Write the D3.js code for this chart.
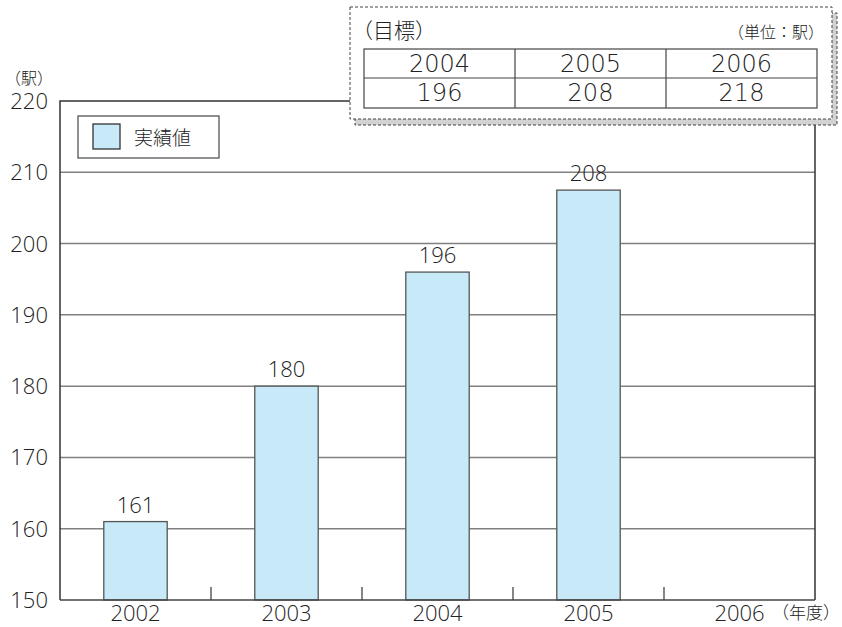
<!DOCTYPE html>
<html>
<head>
<meta charset="utf-8">
<script src="https://cdn.jsdelivr.net/npm/d3@7"></script>
<style>
  body { margin: 0; background: #fff; }
  text { font-family: "Open Sans", "Noto Sans CJK JP", sans-serif; font-weight: 300; fill: #222; }
  .jp { font-family: "Noto Sans CJK JP", sans-serif; font-weight: 300; }
</style>
</head>
<body>
<div id="chart"></div>
<script>
let years = ["2002", "2003", "2004", "2005", "2006"];
let actual = [161, 180, 196, 207.5, null];
let actualLabels = ["161", "180", "196", "208", ""];
let yTicks = [150, 160, 170, 180, 190, 200, 210, 220];
let targetYears = ["2004", "2005", "2006"];
let targetValues = ["196", "208", "218"];

let width = 842, height = 627;
let plotLeft = 60, plotRight = 815, plotTop = 101, plotBottom = 600;

let svg = d3.select("#chart")
    .append("svg")
    .attr("width", width)
    .attr("height", height);

let xScale = d3.scaleBand()
    .domain(years)
    .range([plotLeft, plotRight])
    .paddingInner(0.58)
    .paddingOuter(0.29);

let yScale = d3.scaleLinear()
    .domain([150, 220])
    .range([plotBottom, plotTop]);

// gridlines
svg.append("g")
    .selectAll("line")
    .data(yTicks.slice(1, -1))
    .enter()
    .append("line")
    .attr("x1", plotLeft)
    .attr("x2", plotRight)
    .attr("y1", d => yScale(d))
    .attr("y2", d => yScale(d))
    .style("stroke", "#808080")
    .style("stroke-width", 1.5);

// frame
svg.append("path")
    .attr("d", "M" + plotLeft + "," + plotBottom + "V" + plotTop + "H" + plotRight + "V" + plotBottom)
    .style("fill", "none")
    .style("stroke", "#333")
    .style("stroke-width", 1.5);

// bars
let data = years.map((y, i) => ({year: y, value: actual[i], label: actualLabels[i]}))
    .filter(d => d.value !== null);

svg.selectAll(".bar")
    .data(data)
    .enter()
    .append("rect")
    .attr("class", "bar")
    .attr("x", d => xScale(d.year))
    .attr("y", d => yScale(d.value))
    .attr("width", xScale.bandwidth())
    .attr("height", d => plotBottom - yScale(d.value))
    .style("fill", "#c7e9f8")
    .style("stroke", "#555")
    .style("stroke-width", 1.3);

svg.selectAll(".vlabel")
    .data(data)
    .enter()
    .append("text")
    .attr("class", "vlabel")
    .attr("x", d => xScale(d.year) + xScale.bandwidth() / 2)
    .attr("y", d => yScale(d.value) - 9)
    .attr("text-anchor", "middle")
    .style("font-size", "22px")
    .text(d => d.label);

// bottom axis line with ticks between categories
svg.append("line")
    .attr("x1", plotLeft).attr("x2", plotRight)
    .attr("y1", plotBottom).attr("y2", plotBottom)
    .style("stroke", "#444")
    .style("stroke-width", 1.5);

svg.selectAll(".sep")
    .data(years.slice(1))
    .enter()
    .append("line")
    .attr("class", "sep")
    .attr("x1", d => xScale(d) - xScale.step() / 2 + xScale.bandwidth() / 2)
    .attr("x2", d => xScale(d) - xScale.step() / 2 + xScale.bandwidth() / 2)
    .attr("y1", plotBottom)
    .attr("y2", plotBottom - 13)
    .style("stroke", "#444")
    .style("stroke-width", 1.3);

svg.selectAll(".xlabel")
    .data(years)
    .enter()
    .append("text")
    .attr("class", "xlabel")
    .attr("x", d => xScale(d) + xScale.bandwidth() / 2)
    .attr("y", 621)
    .attr("text-anchor", "middle")
    .style("font-size", "22px")
    .text(d => d);

svg.append("text")
    .attr("class", "jp")
    .attr("x", 772)
    .attr("y", 619)
    .style("font-size", "17px")
    .text("（年度）");

// y tick labels
svg.selectAll(".ylabel")
    .data(yTicks)
    .enter()
    .append("text")
    .attr("class", "ylabel")
    .attr("x", 48)
    .attr("y", d => yScale(d) + 8)
    .attr("text-anchor", "end")
    .style("font-size", "22px")
    .text(d => d);

svg.append("text")
    .attr("class", "jp")
    .attr("x", 5)
    .attr("y", 84)
    .style("font-size", "16px")
    .text("（駅）");

// legend
svg.append("rect")
    .attr("x", 78).attr("y", 116)
    .attr("width", 141).attr("height", 42)
    .style("fill", "#fff")
    .style("stroke", "#555")
    .style("stroke-width", 1.3);

svg.append("rect")
    .attr("x", 93).attr("y", 124)
    .attr("width", 27).attr("height", 25)
    .style("fill", "#c7e9f8")
    .style("stroke", "#333")
    .style("stroke-width", 1.3);

svg.append("text")
    .attr("class", "jp")
    .attr("x", 134)
    .attr("y", 145)
    .style("font-size", "19px")
    .text("実績値");

// target box
let bx = 350, by = 7, bw = 482, bh = 112;

svg.append("rect")
    .attr("x", bx + 5).attr("y", by + 6)
    .attr("width", bw).attr("height", bh)
    .style("fill", "#d2d2d2")
    .style("stroke", "#444")
    .style("stroke-dasharray", "3,2")
    .style("stroke-width", 1);

svg.append("rect")
    .attr("x", bx).attr("y", by)
    .attr("width", bw).attr("height", bh)
    .style("fill", "#fff")
    .style("stroke", "#444")
    .style("stroke-dasharray", "3,2")
    .style("stroke-width", 1);

svg.append("text")
    .attr("class", "jp")
    .attr("x", bx + 2)
    .attr("y", 38)
    .style("font-size", "21px")
    .text("（目標）");

svg.append("text")
    .attr("class", "jp")
    .attr("x", 824)
    .attr("y", 38)
    .attr("text-anchor", "end")
    .style("font-size", "16px")
    .text("（単位：駅）");

let tx = d3.scaleBand()
    .domain(targetYears)
    .range([364, 817]);

let tRow1 = 49, tRow2 = 78, tRow3 = 108;

svg.append("rect")
    .attr("x", 364).attr("y", tRow1)
    .attr("width", 817 - 364).attr("height", tRow3 - tRow1)
    .style("fill", "none")
    .style("stroke", "#444")
    .style("stroke-width", 1.2);

svg.append("line")
    .attr("x1", 364).attr("x2", 817)
    .attr("y1", tRow2).attr("y2", tRow2)
    .style("stroke", "#444")
    .style("stroke-width", 1.2);

svg.selectAll(".tcol")
    .data(targetYears.slice(1))
    .enter()
    .append("line")
    .attr("class", "tcol")
    .attr("x1", d => tx(d)).attr("x2", d => tx(d))
    .attr("y1", tRow1).attr("y2", tRow3)
    .style("stroke", "#444")
    .style("stroke-width", 1.2);

svg.selectAll(".tyear")
    .data(targetYears)
    .enter()
    .append("text")
    .attr("class", "tyear")
    .attr("x", d => tx(d) + tx.bandwidth() / 2)
    .attr("y", 72)
    .attr("text-anchor", "middle")
    .style("font-size", "24px")
    .style("font-family", "'DejaVu Sans', sans-serif")
    .style("font-weight", "200")
    .text(d => d);

svg.selectAll(".tval")
    .data(targetValues)
    .enter()
    .append("text")
    .attr("class", "tval")
    .attr("x", (d, i) => tx(targetYears[i]) + tx.bandwidth() / 2)
    .attr("y", 101)
    .attr("text-anchor", "middle")
    .style("font-size", "24px")
    .style("font-family", "'DejaVu Sans', sans-serif")
    .style("font-weight", "200")
    .text(d => d);
</script>
</body>
</html>
